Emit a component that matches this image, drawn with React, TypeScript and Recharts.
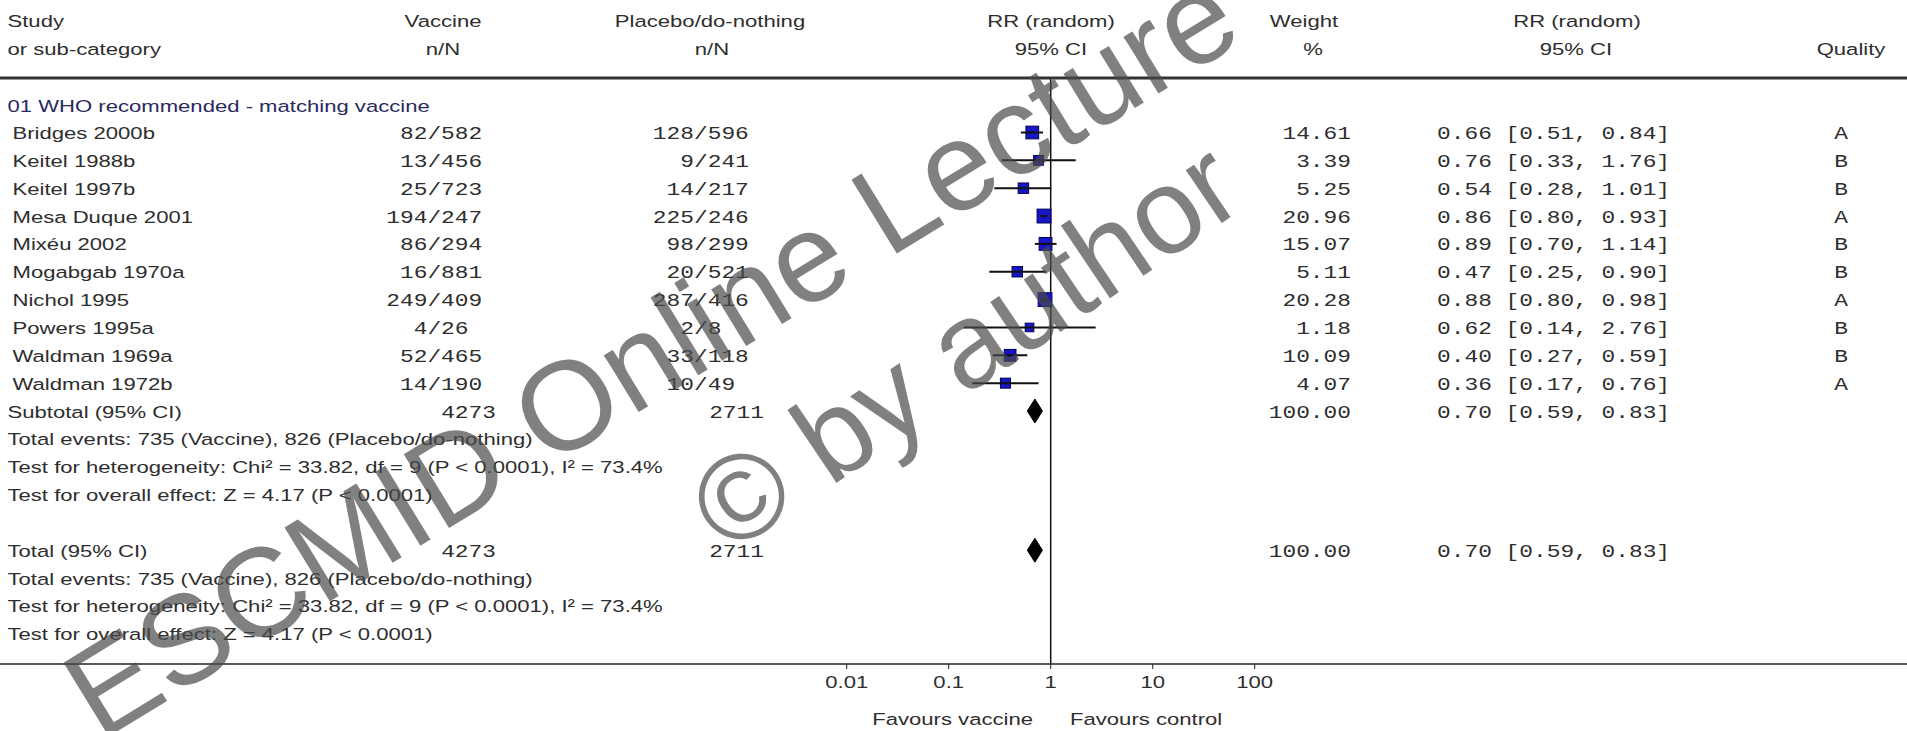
import React from 'react';
import { ScatterChart, Scatter, XAxis, YAxis, ReferenceLine } from 'recharts';

// Forest plot: influenza vaccine vs placebo/do-nothing
const studies = [
  'Bridges 2000b', 'Keitel 1988b', 'Keitel 1997b', 'Mesa Duque 2001', 'Mixéu 2002',
  'Mogabgab 1970a', 'Nichol 1995', 'Powers 1995a', 'Waldman 1969a', 'Waldman 1972b',
];
const vaccineNN = ['82/582', '13/456', '25/723', '194/247', '86/294', '16/881', '249/409', '4/26', '52/465', '14/190'];
const placeboNN = ['128/596', '9/241', '14/217', '225/246', '98/299', '20/521', '287/416', '2/8', '33/118', '10/49'];
const weights = [14.61, 3.39, 5.25, 20.96, 15.07, 5.11, 20.28, 1.18, 10.09, 4.07];
const rr = [0.66, 0.76, 0.54, 0.86, 0.89, 0.47, 0.88, 0.62, 0.40, 0.36];
const ciLow = [0.51, 0.33, 0.28, 0.80, 0.70, 0.25, 0.80, 0.14, 0.27, 0.17];
const ciHigh = [0.84, 1.76, 1.01, 0.93, 1.14, 0.90, 0.98, 2.76, 0.59, 0.76];
const quality = ['A', 'B', 'B', 'A', 'B', 'B', 'A', 'B', 'B', 'A'];

const pooled = { rr: 0.70, lo: 0.59, hi: 0.83, vacTotal: '4273', plaTotal: '2711', weight: '100.00' };
const summaryLines = [
  'Total events: 735 (Vaccine), 826 (Placebo/do-nothing)',
  'Test for heterogeneity: Chi² = 33.82, df = 9 (P < 0.0001), I² = 73.4%',
  'Test for overall effect: Z = 4.17 (P < 0.0001)',
];
const axisTicks = [0.01, 0.1, 1, 10, 100];

// layout
const W = 1907;
const H = 731;
const AXIS_Y = 664;
const HEAD_RULE = 78;
const ROW0 = 132.5;
const ROW_H = 27.85;
const X_ONE = 1050.7;
const DECADE = 102;
const SX = 1.3;
const CW = 0.6 * 18 * 1.27;
const rowY = (r: number) => ROW0 + ROW_H * r;
const yDomain = [(0 - ROW0) / ROW_H, (AXIS_Y - ROW0) / ROW_H];
const xDomain = [Math.pow(10, -X_ONE / DECADE), Math.pow(10, (W - X_ONE) / DECADE)];
const SUB_ROW = 10;
const TOTAL_ROW = 15;

const SANS = "'Liberation Sans', Arial, sans-serif";
const MONO = "'Liberation Mono', 'Courier New', monospace";
const INK = '#2e2e2e';

function T({ x, y, children, anchor = 'start', fill = INK }: any) {
  return (
    <text transform={`translate(${x},${y}) scale(${SX},1)`} textAnchor={anchor} fontFamily={SANS} fontSize={17} fill={fill}>
      {children}
    </text>
  );
}

function M({ x, y, children, anchor = 'start' }: any) {
  return (
    <text transform={`translate(${x},${y}) scale(1.27,1)`} textAnchor={anchor} fontFamily={MONO} fontSize={18} fill={INK}>
      {children}
    </text>
  );
}

// n/N values are lined up on the slash
function slashStart(s: string, slashX: number) {
  return slashX - s.indexOf('/') * CW;
}

const AxisTick = (props: any) => {
  const { x, y, payload } = props;
  return (
    <text transform={`translate(${x},${y + 17}) scale(${SX},1)`} textAnchor="middle" fontFamily={SANS} fontSize={17} fill={INK}>
      {String(payload.value)}
    </text>
  );
};

const StudySquare = (p: any) => {
  const s = 7 + 1.5 * Math.sqrt(p.payload.w);
  return <rect x={p.cx - s / 2} y={p.cy - s / 2} width={s} height={s} fill="#1616c4" stroke="#00005a" strokeWidth={1} />;
};

const NoDot = () => <g />;

const diamond = (r: number) => [
  { x: pooled.lo, y: r },
  { x: pooled.rr, y: r - 0.43 },
  { x: pooled.hi, y: r },
  { x: pooled.rr, y: r + 0.43 },
  { x: pooled.lo, y: r },
];

const squareData = studies.map((s, i) => ({ x: rr[i], y: i, w: weights[i], name: s }));

function summaryBlock(r: number, label: string) {
  const b = (k: number) => rowY(k) + 6.5;
  return (
    <g key={label}>
      <T x={7.5} y={b(r)}>{label}</T>
      <M x={496} y={b(r)} anchor="end">{pooled.vacTotal}</M>
      <M x={764} y={b(r)} anchor="end">{pooled.plaTotal}</M>
      <M x={1351} y={b(r)} anchor="end">{pooled.weight}</M>
      <M x={1437} y={b(r)}>{`${pooled.rr.toFixed(2)} [${pooled.lo.toFixed(2)}, ${pooled.hi.toFixed(2)}]`}</M>
      {summaryLines.map((t, k) => (
        <T key={t} x={7.5} y={b(r + 1 + k)}>{t}</T>
      ))}
    </g>
  );
}

export default function App() {
  const headTop = 27;
  const headBot = 55;
  return (
    <div style={{ position: 'relative', width: W, height: H, background: '#fff', overflow: 'hidden' }}>
      <style>{'body{margin:0}'}</style>
      <ScatterChart width={W} height={H} margin={{ top: 0, right: 0, bottom: 0, left: 0 }}>
        <XAxis
          type="number"
          dataKey="x"
          scale="log"
          domain={xDomain}
          allowDataOverflow
          ticks={axisTicks}
          tick={<AxisTick />}
          tickSize={5}
          height={H - AXIS_Y}
          axisLine={{ stroke: '#222', strokeWidth: 1.5 }}
          tickLine={{ stroke: '#222' }}
          interval={0}
        />
        <YAxis type="number" dataKey="y" domain={yDomain} reversed hide allowDataOverflow />
        <ReferenceLine
          segment={[{ x: 1, y: (HEAD_RULE - ROW0) / ROW_H }, { x: 1, y: yDomain[1] }]}
          stroke="#111"
          strokeWidth={1.5}
          ifOverflow="extendDomain"
        />
        <Scatter data={squareData} shape={StudySquare} isAnimationActive={false} />
        {studies.map((s, i) => (
          <Scatter
            key={s}
            data={[{ x: ciLow[i], y: i }, { x: ciHigh[i], y: i }]}
            fill="#111"
            line={{ stroke: '#111', strokeWidth: 2 }}
            shape={NoDot}
            isAnimationActive={false}
          />
        ))}
        {[SUB_ROW, TOTAL_ROW].map((r) => (
          <Scatter
            key={r}
            data={diamond(r)}
            fill="#000"
            line={{ stroke: '#000', strokeWidth: 1, fill: '#000' }}
            shape={NoDot}
            isAnimationActive={false}
          />
        ))}
      </ScatterChart>

      <svg width={W} height={H} style={{ position: 'absolute', left: 0, top: 0, pointerEvents: 'none' }}>
        <rect x={0} y={HEAD_RULE - 1.5} width={W} height={3} fill="#333" />

        <T x={7.5} y={headTop}>Study</T>
        <T x={7.5} y={headBot}>or sub-category</T>
        <T x={443} y={headTop} anchor="middle">Vaccine</T>
        <T x={443} y={headBot} anchor="middle">n/N</T>
        <T x={710} y={headTop} anchor="middle">Placebo/do-nothing</T>
        <T x={712} y={headBot} anchor="middle">n/N</T>
        <T x={1051} y={headTop} anchor="middle">RR (random)</T>
        <T x={1051} y={headBot} anchor="middle">95% CI</T>
        <T x={1304} y={headTop} anchor="middle">Weight</T>
        <T x={1313} y={headBot} anchor="middle">%</T>
        <T x={1577} y={headTop} anchor="middle">RR (random)</T>
        <T x={1576} y={headBot} anchor="middle">95% CI</T>
        <T x={1851} y={headBot} anchor="middle">Quality</T>

        <T x={7.5} y={rowY(-1) + 7} fill="#2a2a5e">01 WHO recommended - matching vaccine</T>

        {studies.map((s, i) => {
          const b = rowY(i) + 6.5;
          return (
            <g key={s}>
              <T x={12.5} y={b}>{s}</T>
              <M x={slashStart(vaccineNN[i], 427.4)} y={b}>{vaccineNN[i]}</M>
              <M x={slashStart(placeboNN[i], 694)} y={b}>{placeboNN[i]}</M>
              <M x={1351} y={b} anchor="end">{weights[i].toFixed(2)}</M>
              <M x={1437} y={b}>{`${rr[i].toFixed(2)} [${ciLow[i].toFixed(2)}, ${ciHigh[i].toFixed(2)}]`}</M>
              <M x={1841} y={b} anchor="middle">{quality[i]}</M>
            </g>
          );
        })}

        {summaryBlock(SUB_ROW, 'Subtotal (95% CI)')}
        {summaryBlock(TOTAL_ROW, 'Total (95% CI)')}

        <T x={1033} y={725} anchor="end">Favours vaccine</T>
        <T x={1070} y={725}>Favours control</T>

        <g fontFamily={SANS} fill="#4a4a4a" fillOpacity={0.7}>
          <text transform="translate(100,742) rotate(-31.5)" fontSize={126}>ESCMID Online Lecture</text>
          <text transform="translate(728,556) rotate(-34)" fontSize={121}>© by author</text>
        </g>
      </svg>
    </div>
  );
}
